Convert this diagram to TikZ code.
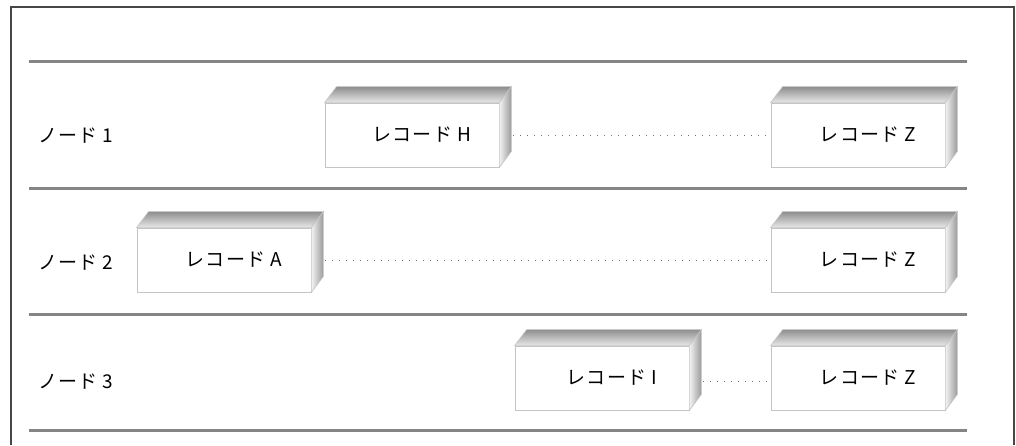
\documentclass[tikz,border=0pt]{standalone}
\usepackage{fontspec}
\setmainfont{Noto Sans CJK JP}[LetterSpace=6]
\usetikzlibrary{positioning}
\definecolor{framegray}{HTML}{474747}
\definecolor{sepgray}{HTML}{858585}
\definecolor{edgegray}{HTML}{C4C4C4}
\definecolor{topback}{HTML}{8E8E8E}
\definecolor{topfront}{HTML}{E8E8E8}
\definecolor{sidefront}{HTML}{F2F2F2}
\definecolor{sideback}{HTML}{9A9A9A}
\definecolor{dotgray}{HTML}{707070}
\tikzset{
  recbox/.style={draw=edgegray,fill=white,line width=0.8pt,minimum width=174pt,minimum height=64pt,inner sep=0pt,
    font=\fontsize{19}{19}\selectfont,execute at begin node=\hspace*{20pt}},
  rowlabel/.style={anchor=west,inner sep=0pt,font=\fontsize{19}{19}\selectfont},
  rowrule/.style={line width=3pt,draw=sepgray},
  dotline/.style={draw=dotgray,line width=1pt,dash pattern=on 1pt off 6pt},
  face/.style={draw=edgegray,line width=0.6pt}
}

\begin{document}
\begin{tikzpicture}[x=1pt,y=-1pt]
  \useasboundingbox (0,0) rectangle (1016,445);
  \draw[line width=1.8pt,draw=framegray] (11,445) -- (11,7) -- (1014,7) -- (1014,445);
  \foreach \y in {61,188,314,430}
    \draw[rowrule] (29,\y) -- (967,\y);

  \node[rowlabel] (lab1) at (38,136) {ノード 1};
  \node[rowlabel] (lab2) at (38,263) {ノード 2};
  \node[rowlabel] (lab3) at (38,382) {ノード 3};

  \node[recbox] (recH) at (412,135) {レコード H};
  \node[recbox] (recZa) at (858,135) {レコード Z};
  \node[recbox] (recA) at (224,260) {レコード A};
  \node[recbox] (recZb) at (858,260) {レコード Z};
  \node[recbox] (recI) at (602,378) {レコード I};
  \node[recbox] (recZc) at (858,378) {レコード Z};

  % top and side faces
  \foreach \n in {recH,recZa,recA,recZb,recI,recZc}{
    \shadedraw[face,top color=topback,bottom color=topfront]
      (\n.north west) -- ++(12,-16) -- ([shift={(12,-16)}]\n.north east) -- (\n.north east) -- cycle;
    \shadedraw[face,left color=sidefront,right color=sideback]
      (\n.north east) -- ++(12,-16) -- ([shift={(12,-16)}]\n.south east) -- (\n.south east) -- cycle;
  }

  \draw[dotline] ([xshift=14pt]recH.east) -- (recZa.west);
  \draw[dotline] ([xshift=14pt]recA.east) -- (recZb.west);
  \draw[dotline] ([xshift=14pt,yshift=-3pt]recI.east) -- ([yshift=-3pt]recZc.west);
\end{tikzpicture}
\end{document}
